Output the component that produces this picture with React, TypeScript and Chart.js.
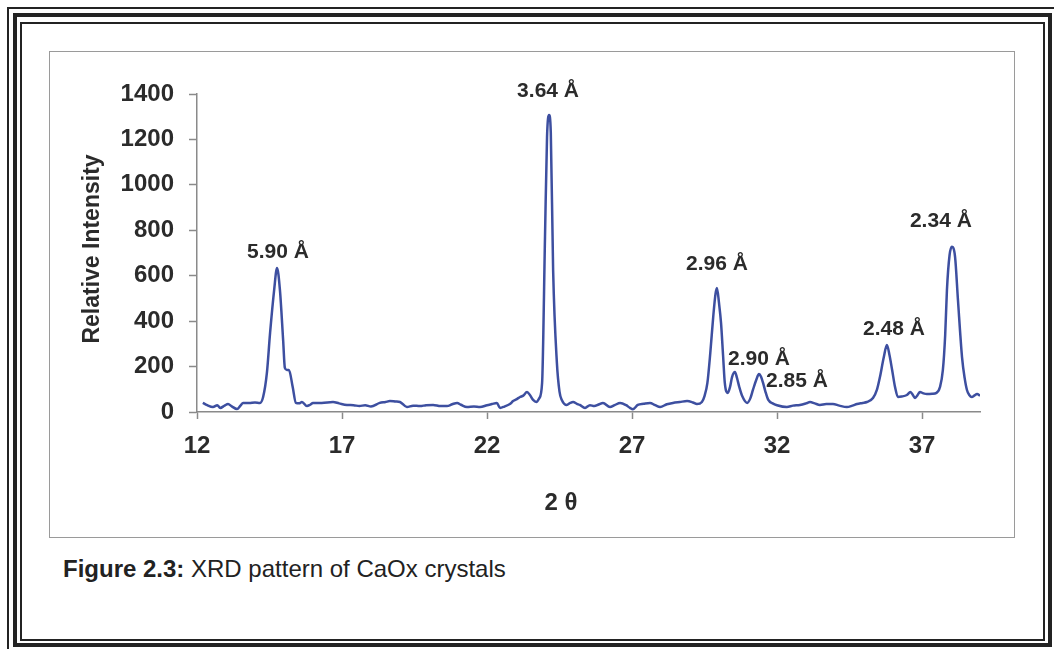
import { useEffect, useRef } from "react";
import { Chart, registerables } from "chart.js";

Chart.register(...registerables);

// Diffraction angle (2θ, degrees) and measured intensity of the CaOx pattern
const twoTheta = [
  12.2, 12.35, 12.55, 12.7, 12.8, 12.95, 13.07, 13.2, 13.38, 13.5, 13.59, 13.8, 14.0, 14.17, 14.28,
  14.41, 14.52, 14.66, 14.76, 14.86, 14.97, 15.03, 15.1, 15.17, 15.3, 15.41, 15.52, 15.62, 15.79, 15.9,
  16.0, 16.3, 16.69, 16.9, 17.17, 17.4, 17.6, 17.8, 18.0, 18.3, 18.5, 18.65, 18.85, 19.0, 19.24,
  19.45, 19.69, 19.9, 20.14, 20.4, 20.62, 20.8, 20.97, 21.1, 21.31, 21.55, 21.76, 22.0, 22.17, 22.34,
  22.45, 22.6, 22.79, 22.9, 23.03, 23.14, 23.25, 23.38, 23.48, 23.59, 23.7, 23.8, 23.9, 24.0, 24.07,
  24.14, 24.2, 24.28, 24.41, 24.5, 24.58, 24.75, 24.87, 24.97, 25.1, 25.2, 25.38, 25.55, 25.7, 25.85,
  26.0, 26.24, 26.4, 26.59, 26.8, 26.93, 27.03, 27.2, 27.4, 27.62, 27.8, 27.97, 28.2, 28.41, 28.65,
  28.9, 29.1, 29.24, 29.41, 29.5, 29.6, 29.7, 29.8, 29.88, 29.93, 30.0, 30.07, 30.14, 30.2, 30.3,
  30.38, 30.45, 30.55, 30.62, 30.7, 30.8, 30.97, 31.08, 31.17, 31.28, 31.38, 31.45, 31.52, 31.6, 31.7,
  31.85, 32.0, 32.34, 32.55, 32.79, 33.0, 33.14, 33.3, 33.48, 33.7, 33.93, 34.15, 34.41, 34.6, 34.76,
  34.95, 35.1, 35.31, 35.45, 35.55, 35.68, 35.79, 35.88, 35.97, 36.07, 36.17, 36.3, 36.48, 36.6, 36.7,
  36.76, 36.85, 36.93, 37.05, 37.17, 37.35, 37.5, 37.62, 37.72, 37.8, 37.86, 37.95, 38.03, 38.14, 38.24,
  38.38, 38.47, 38.55, 38.63, 38.72, 38.8, 38.9, 39.0,
];

const intensity = [
  40, 30, 22, 30, 18, 28, 35, 25, 13, 28, 40, 40, 42, 40, 66,
  172, 348, 537, 634, 537, 317, 194, 185, 185, 110, 40, 38, 44, 26, 32,
  40, 40, 44, 38, 31, 30, 26, 30, 24, 40, 44, 48, 46, 44, 22,
  28, 26, 30, 31, 26, 26, 34, 40, 32, 22, 24, 22, 30, 35, 40,
  18, 24, 35, 48, 57, 66, 72, 88, 75, 53, 44, 60, 128, 770, 1210,
  1308, 1229, 625, 216, 90, 53, 31, 40, 44, 36, 31, 18, 30, 26, 33,
  40, 22, 30, 40, 30, 18, 12, 31, 36, 40, 30, 22, 34, 40, 44,
  48, 42, 35, 44, 70, 128, 260, 418, 520, 546, 480, 392, 250, 128, 84,
  110, 154, 176, 150, 110, 70, 40, 60, 97, 140, 167, 155, 128, 90, 53,
  38, 30, 22, 28, 31, 38, 44, 38, 31, 35, 35, 28, 22, 28, 35,
  40, 44, 62, 100, 154, 240, 295, 250, 185, 110, 66, 68, 75, 88, 72,
  62, 75, 88, 82, 79, 80, 84, 110, 185, 340, 537, 690, 727, 683, 493,
  242, 150, 97, 75, 66, 72, 79, 72,
];

const xTickValues = [12, 17, 22, 27, 32, 37];
const yTickValues = [0, 200, 400, 600, 800, 1000, 1200, 1400];

// d-spacing annotations and the 2θ position of the reflection each one names
const peakLabels = ["5.90 Å", "3.64 Å", "2.96 Å", "2.90 Å", "2.85 Å", "2.48 Å", "2.34 Å"];
const peakAngles = [14.76, 24.14, 29.93, 30.55, 31.38, 35.79, 38.03];
// pixel offset of each annotation from the top of its peak
const peakLabelDx = [1, -1, 0, 24, 38, 7, -11];
const peakLabelDy = [-16, -24, -24, -13, 7, -16, -26];

const FONT = "'Liberation Sans', Arial, Helvetica, sans-serif";
const TEXT = "#2b2b2b";
const AXIS = "#8a8a8a";
const LINE = "#3d4fa0";

const annotations = {
  id: "xrdAnnotations",
  afterDraw(chart: any) {
    const { ctx, chartArea, scales } = chart;
    ctx.save();
    ctx.fillStyle = TEXT;
    ctx.textAlign = "center";
    ctx.textBaseline = "middle";

    // axis titles
    ctx.font = `bold 24px ${FONT}`;
    ctx.fillText("2 θ", chartArea.left + 364, chartArea.bottom + 91);
    ctx.save();
    ctx.translate(chartArea.left - 104, (chartArea.top + chartArea.bottom) / 2 - 4);
    ctx.rotate(-Math.PI / 2);
    ctx.font = `bold 23px ${FONT}`;
    ctx.fillText("Relative Intensity", 0, 0);
    ctx.restore();

    // peak annotations, anchored on the highest point near each reflection
    ctx.font = `bold 21px ${FONT}`;
    peakLabels.forEach((label, i) => {
      let best = -1;
      for (let k = 0; k < twoTheta.length; k++) {
        if (Math.abs(twoTheta[k] - peakAngles[i]) <= 0.15) {
          if (best < 0 || intensity[k] > intensity[best]) best = k;
        }
      }
      const px = scales.x.getPixelForValue(twoTheta[best]);
      const py = scales.y.getPixelForValue(intensity[best]);
      ctx.fillText(label, px + peakLabelDx[i], py + peakLabelDy[i]);
    });
    ctx.restore();
  },
};

function XrdChart() {
  const canvasRef = useRef<HTMLCanvasElement | null>(null);

  useEffect(() => {
    if (!canvasRef.current) return;
    const points = twoTheta.map((x, i) => ({ x, y: intensity[i] }));
    const chart = new Chart(canvasRef.current, {
      type: "scatter",
      data: {
        datasets: [
          {
            data: points,
            showLine: true,
            borderColor: LINE,
            borderWidth: 2.5,
            pointRadius: 0,
            cubicInterpolationMode: "monotone",
            fill: false,
          },
        ],
      },
      options: {
        animation: false,
        responsive: false,
        maintainAspectRatio: false,
        layout: { padding: { top: 43, right: 35, left: 0, bottom: 0 } },
        plugins: {
          legend: { display: false },
          tooltip: { enabled: false },
          title: { display: false },
        },
        scales: {
          x: {
            type: "linear",
            min: 12,
            max: 39,
            afterBuildTicks: (scale: any) => {
              scale.ticks = xTickValues.map((value) => ({ value }));
            },
            afterFit: (scale: any) => {
              scale.height = 126;
              scale.paddingLeft = 0;
              scale.paddingRight = 0;
            },
            ticks: {
              font: { family: FONT, size: 24, weight: "bold" },
              color: TEXT,
              padding: 13,
              maxRotation: 0,
              callback: (v: any) => String(v),
            },
            grid: {
              drawOnChartArea: false,
              drawTicks: true,
              tickLength: 7,
              color: AXIS,
              tickWidth: 1.5,
            },
            border: { display: true, color: AXIS, width: 1.5 },
          },
          y: {
            type: "linear",
            min: 0,
            max: 1400,
            afterBuildTicks: (scale: any) => {
              scale.ticks = yTickValues.map((value) => ({ value }));
            },
            afterFit: (scale: any) => {
              scale.width = 148;
              scale.paddingTop = 0;
              scale.paddingBottom = 0;
            },
            ticks: {
              font: { family: FONT, size: 24, weight: "bold" },
              color: TEXT,
              padding: 15,
              callback: (v: any) => String(v),
            },
            grid: {
              drawOnChartArea: false,
              drawTicks: true,
              tickLength: 8,
              color: AXIS,
              tickWidth: 1.5,
            },
            border: { display: true, color: AXIS, width: 1.5 },
          },
        },
      },
      plugins: [annotations],
    } as any);
    return () => chart.destroy();
  }, []);

  return <canvas ref={canvasRef} width={966} height={487} style={{ display: "block" }} />;
}

export default function App() {
  const rule = "#232323";
  return (
    <div
      style={{
        position: "absolute",
        left: 0,
        top: 0,
        width: 1054,
        height: 649,
        overflow: "hidden",
        background: "#ffffff",
      }}
    >
      {/* triple-rule page frame */}
      <div style={{ position: "absolute", left: 7, top: 7, width: 1060, height: 660, border: `2px solid ${rule}` }} />
      <div style={{ position: "absolute", left: 13, top: 13, width: 1031, height: 626, border: `4px solid ${rule}` }} />
      <div style={{ position: "absolute", left: 20, top: 22, width: 1021, height: 615, border: `2px solid ${rule}` }} />

      {/* chart box */}
      <div
        style={{
          position: "absolute",
          left: 49,
          top: 51,
          width: 964,
          height: 485,
          border: "1.5px solid #9a9a9a",
        }}
      />
      <div style={{ position: "absolute", left: 49, top: 51, width: 966, height: 487 }}>
        <XrdChart />
      </div>

      {/* caption */}
      <div
        style={{
          position: "absolute",
          left: 63,
          top: 555,
          fontFamily: FONT,
          fontSize: 24,
          lineHeight: "28px",
          color: "#222",
          whiteSpace: "nowrap",
        }}
      >
        <b>Figure 2.3:</b> XRD pattern of CaOx crystals
      </div>
    </div>
  );
}
